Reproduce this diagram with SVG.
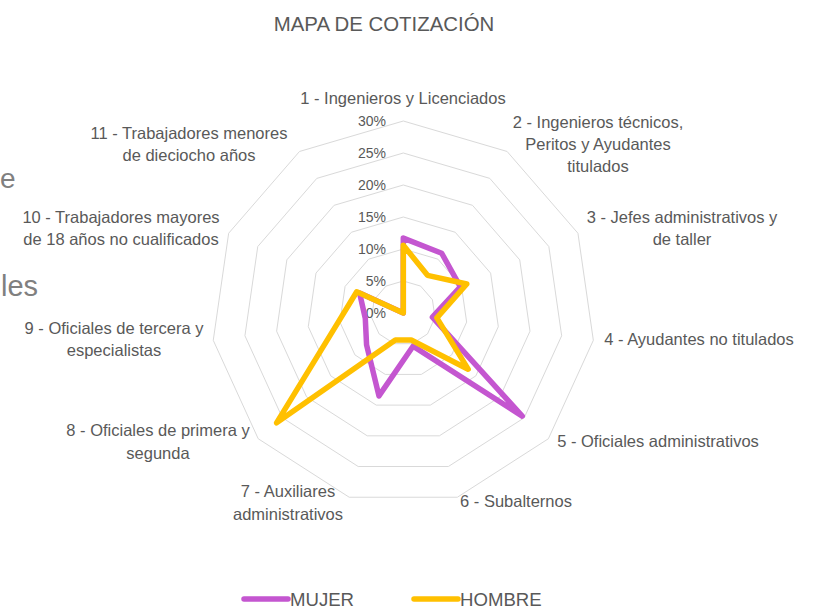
<svg xmlns="http://www.w3.org/2000/svg" width="814" height="610" viewBox="0 0 814 610">
<style>
.lbl{font-family:"Liberation Sans",Arial,sans-serif;font-size:16.5px;fill:#595959;text-anchor:middle}
.pct{font-family:"Liberation Sans",Arial,sans-serif;font-size:14px;fill:#595959;text-anchor:end}
.ring{fill:none;stroke:#D9D9D9;stroke-width:1}
.ser{fill:none;stroke-width:5.5;stroke-linejoin:round;stroke-linecap:round}
.mujer{stroke:#C456D0}
.hombre{stroke:#FFC000}
.frag{font-family:"Liberation Sans",Arial,sans-serif;fill:#808080;text-anchor:start}
</style>
<rect width="814" height="610" fill="#FFFFFF"/>
<g id="fragments">
<text class="frag" x="0" y="188" font-size="28">e</text>
<text class="frag" x="1" y="296" font-size="29">les</text>
</g>
<text id="title" x="384" y="31" font-family="'Liberation Sans',Arial,sans-serif" font-size="20.4" fill="#595959" text-anchor="middle">MAPA DE COTIZACIÓN</text>
<g id="grid" transform="translate(403.3,313)">
<polygon class="ring" points="0,-32 17.30,-26.92 29.11,-13.29 31.67,4.55 24.18,20.96 9.01,30.70 -9.01,30.70 -24.18,20.96 -31.67,4.55 -29.11,-13.29 -17.30,-26.92"/>
<polygon class="ring" points="0,-64 34.60,-53.84 58.21,-26.59 63.35,9.11 48.36,41.91 18.03,61.41 -18.03,61.41 -48.36,41.91 -63.35,9.11 -58.21,-26.59 -34.60,-53.84"/>
<polygon class="ring" points="0,-96 51.90,-80.76 87.32,-39.88 95.02,13.66 72.55,62.87 27.04,92.11 -27.04,92.11 -72.55,62.87 -95.02,13.66 -87.32,-39.88 -51.90,-80.76"/>
<polygon class="ring" points="0,-128 69.20,-107.69 116.43,-53.17 126.69,18.21 96.73,83.83 36.06,122.82 -36.06,122.82 -96.73,83.83 -126.69,18.21 -116.43,-53.17 -69.20,-107.69"/>
<polygon class="ring" points="0,-160 86.50,-134.61 145.54,-66.46 158.37,22.77 120.91,104.78 45.07,153.52 -45.07,153.52 -120.91,104.78 -158.37,22.77 -145.54,-66.46 -86.50,-134.61"/>
<polygon class="ring" points="0,-192 103.80,-161.53 174.64,-79.76 190.04,27.32 145.09,125.74 54.09,184.22 -54.09,184.22 -145.09,125.74 -190.04,27.32 -174.64,-79.76 -103.80,-161.53"/>
</g>
<g id="scale">
<text class="pct" x="386" y="126">30%</text>
<text class="pct" x="386" y="158">25%</text>
<text class="pct" x="386" y="190">20%</text>
<text class="pct" x="386" y="222">15%</text>
<text class="pct" x="386" y="254">10%</text>
<text class="pct" x="386" y="286">5%</text>
<text class="pct" x="386" y="318">0%</text>
</g>
<g id="connectors" transform="translate(403.3,313)">
<polygon id="serie-mujer" class="ser mujer" points="0,-74.9 38.39,-59.75 57.04,-26.05 29.10,4.18 118.95,103.08 9.74,33.18 -24.34,82.90 -36.73,31.83 -38.01,5.46 -43.66,-19.94 0,0"/>
<polygon id="serie-hombre" class="ser hombre" points="0,-67.8 24.22,-37.69 63.49,-28.99 33.55,4.82 64.84,56.19 7.94,27.06 -7.94,27.06 -126.73,109.83 -65.23,9.38 -46.57,-21.27 0,0"/>
</g>
<g id="axis-1"><text class="lbl" x="403" y="104">1 - Ingenieros y Licenciados</text></g>
<g id="axis-2"><text class="lbl" x="598" y="128">2 - Ingenieros técnicos,</text><text class="lbl" x="598" y="150">Peritos y Ayudantes</text><text class="lbl" x="598" y="172">titulados</text></g>
<g id="axis-3"><text class="lbl" x="682" y="223">3 - Jefes administrativos y</text><text class="lbl" x="682" y="245">de taller</text></g>
<g id="axis-4"><text class="lbl" x="699" y="345">4 - Ayudantes no titulados</text></g>
<g id="axis-5"><text class="lbl" x="658" y="447">5 - Oficiales administrativos</text></g>
<g id="axis-6"><text class="lbl" x="516" y="507">6 - Subalternos</text></g>
<g id="axis-7"><text class="lbl" x="288" y="497">7 - Auxiliares</text><text class="lbl" x="288" y="520">administrativos</text></g>
<g id="axis-8"><text class="lbl" x="158" y="436">8 - Oficiales de primera y</text><text class="lbl" x="158" y="459">segunda</text></g>
<g id="axis-9"><text class="lbl" x="114" y="334">9 - Oficiales de tercera y</text><text class="lbl" x="114" y="356">especialistas</text></g>
<g id="axis-10"><text class="lbl" x="121" y="223">10 - Trabajadores mayores</text><text class="lbl" x="121" y="245">de 18 años no cualificados</text></g>
<g id="axis-11"><text class="lbl" x="189" y="139">11 - Trabajadores menores</text><text class="lbl" x="189" y="161">de dieciocho años</text></g>
<g id="legend">
<line x1="244" y1="599" x2="288" y2="599" class="ser mujer"/>
<text x="290" y="606" font-family="'Liberation Sans',Arial,sans-serif" font-size="18.6" fill="#595959">MUJER</text>
<line x1="414" y1="599" x2="458" y2="599" class="ser hombre"/>
<text x="460" y="606" font-family="'Liberation Sans',Arial,sans-serif" font-size="18.6" fill="#595959">HOMBRE</text>
</g>
</svg>
